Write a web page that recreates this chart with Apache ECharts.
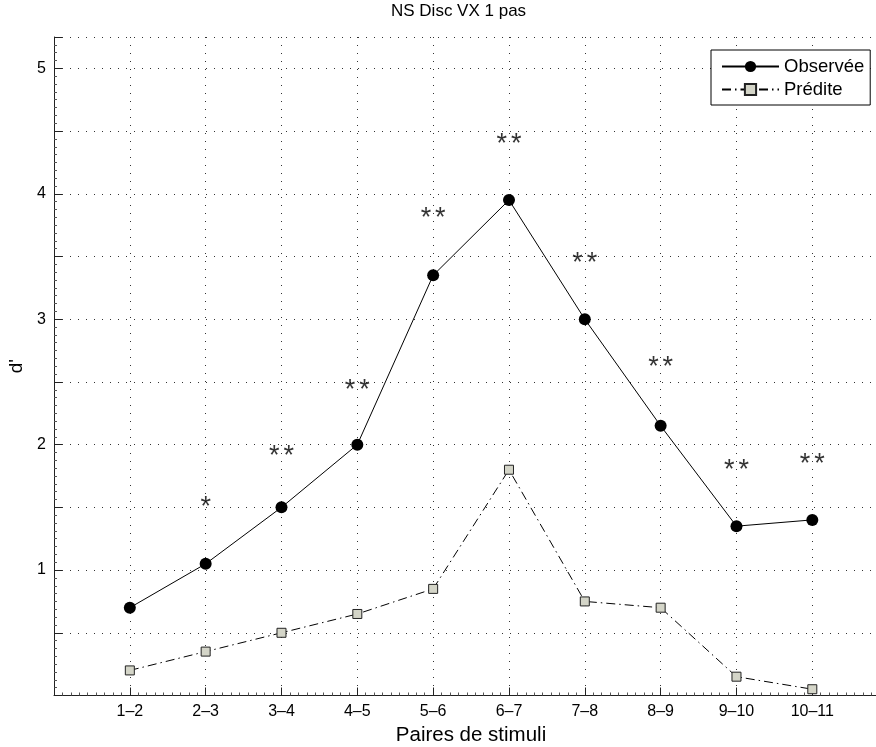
<!DOCTYPE html>
<html>
<head>
<meta charset="utf-8">
<title>NS Disc VX 1 pas</title>
<script src="https://cdn.jsdelivr.net/npm/echarts@6/dist/echarts.min.js"></script>
<style>
html, body { margin: 0; padding: 0; background: #fff; }
#chart { width: 876px; height: 747px; }
</style>
</head>
<body>
<div id="chart"></div>
<script>
var pairs = ['1–2', '2–3', '3–4', '4–5', '5–6', '6–7', '7–8', '8–9', '9–10', '10–11'];
var observed = [0.70, 1.05, 1.50, 2.00, 3.35, 3.95, 3.00, 2.15, 1.35, 1.40];
var predicted = [0.20, 0.35, 0.50, 0.65, 0.85, 1.80, 0.75, 0.70, 0.15, 0.05];
// significance marks drawn above each pair
var stars = ['', '*', '* *', '* *', '* *', '* *', '* *', '* *', '* *', '* *'];
var starY = [null, 1.55, 1.95, 2.48, 3.85, 4.44, 3.49, 2.66, 1.84, 1.89];

var font = "'Liberation Sans', Arial, Helvetica, sans-serif";

var obsData = observed.map(function (v, i) { return [i + 1, v]; });
var predData = predicted.map(function (v, i) { return [i + 1, v]; });
var starData = [];
stars.forEach(function (s, i) {
  if (s && starY[i] != null) starData.push({ value: [i + 1, starY[i]], name: s });
});

var chart = echarts.init(document.getElementById('chart'));
chart.setOption({
  animation: false,
  backgroundColor: '#fff',
  title: {
    text: 'NS Disc VX 1 pas',
    left: 391, top: 3, padding: 0,
    textStyle: { fontSize: 17, fontWeight: 'normal', color: '#000', fontFamily: font }
  },
  // the original axes are cut off at the right edge, so x stops at ~10.84
  grid: { left: 54, right: 0, top: 37, bottom: 51.5, outerBoundsMode: 'none', containLabel: false },
  legend: {
    data: ['Observée', 'Prédite'],
    orient: 'vertical',
    left: 711, top: 50,
    padding: [7, 6, 6, 10],
    itemGap: 4, itemWidth: 57, itemHeight: 14,
    borderColor: '#000', borderWidth: 1, borderRadius: 0,
    backgroundColor: '#fff',
    textStyle: { fontSize: 18.5, color: '#000', fontFamily: font }
  },
  xAxis: {
    type: 'value', min: 0, max: 10.84, interval: 1,
    name: 'Paires de stimuli', nameLocation: 'middle', nameGap: 26,
    nameTextStyle: { fontSize: 20.5, color: '#000', fontFamily: font, padding: [0, 0, 0, 12] },
    axisLine: { lineStyle: { color: '#222', width: 1 } },
    axisTick: { inside: true, length: 8, lineStyle: { color: '#222' } },
    minorTick: { show: true, splitNumber: 9, length: 3, lineStyle: { color: '#555' } },
    axisLabel: {
      fontSize: 16, color: '#000', fontFamily: font, margin: 8,
      formatter: function (v) { return pairs[v - 1] || ''; }
    },
    splitLine: { show: true, showMaxLine: false, lineStyle: { type: [1, 7], color: '#333' } }
  },
  yAxis: {
    type: 'value', min: 0, max: 5.25, interval: 0.5,
    name: "d'", nameLocation: 'middle', nameGap: 27, nameRotate: 90,
    nameTextStyle: { fontSize: 19, color: '#000', fontFamily: font },
    axisLine: { show: true, lineStyle: { color: '#222', width: 1 } },
    axisTick: { show: true, inside: true, length: 8, lineStyle: { color: '#222' } },
    minorTick: { show: true, splitNumber: 8, length: 3, lineStyle: { color: '#555' } },
    axisLabel: {
      fontSize: 16, color: '#000', fontFamily: font, margin: 8,
      formatter: function (v) { return (v > 0 && v % 1 === 0) ? String(v) : ''; }
    },
    splitLine: { show: true, lineStyle: { type: [1, 7], color: '#333' } }
  },
  series: [
    {
      name: 'Observée', type: 'line', data: obsData,
      symbol: 'circle', symbolSize: 12,
      itemStyle: { color: '#000' },
      lineStyle: { color: '#000', width: 1 },
      z: 3
    },
    {
      name: 'Prédite', type: 'line', data: predData,
      symbol: 'rect', symbolSize: 9,
      itemStyle: { color: '#d4d5c8', borderColor: '#222', borderWidth: 1 },
      lineStyle: { color: '#000', width: 1, type: [9, 4, 1.5, 4] },
      z: 3
    },
    {
      name: 'stars', type: 'scatter', data: starData,
      symbolSize: 0, silent: true,
      label: {
        show: true, position: 'inside', offset: [0, 6],
        color: '#000',
        formatter: function (p) {
          return p.data.name.split(' ').map(function (s) { return '{s|' + s + '}'; }).join('{g| }');
        },
        rich: {
          s: { fontSize: 27, color: '#000', fontFamily: font },
          g: { fontSize: 14, fontFamily: font }
        }
      }
    }
  ]
});
</script>
</body>
</html>
